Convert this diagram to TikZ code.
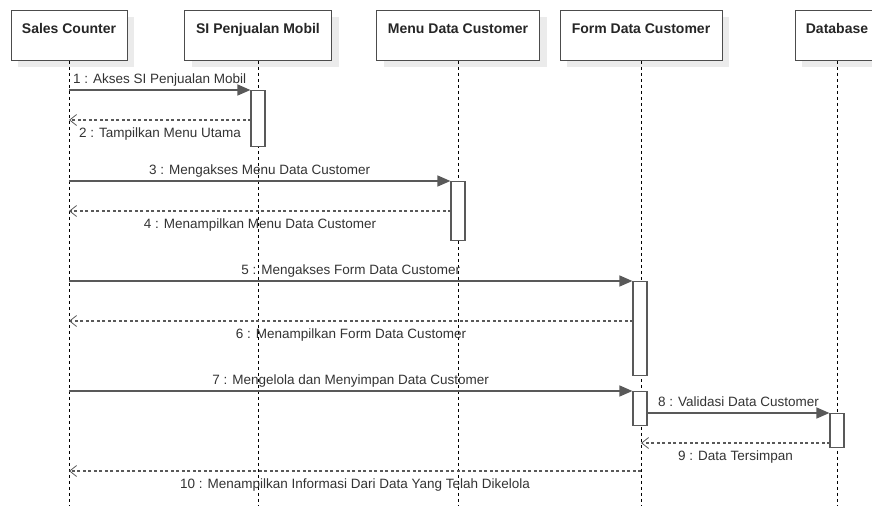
\documentclass[tikz,border=0pt]{standalone}
\usepackage{fontspec}
\setmainfont{Liberation Sans}
\usetikzlibrary{arrows.meta,shadows}

\begin{document}
\begin{tikzpicture}[x=1pt, y=-1pt]
		\tikzset{hd/.style={rectangle, draw=black!70, line width=0.9pt, fill=white, drop shadow={shadow xshift=7pt, shadow yshift=-7pt, fill=black!8, opacity=1}, minimum height=50pt, text height=18pt, text depth=22pt, inner sep=5pt, anchor=north, font=\bfseries\fontsize{14}{16}\selectfont, text=black!85}};
		\tikzset{life/.style={draw=black, line width=0.7pt, dash pattern=on 3pt off 3pt}};
		\tikzset{act/.style={rectangle, draw=black!65, line width=1.2pt, fill=white, minimum width=14pt, inner sep=0pt, anchor=north}};
		\tikzset{msg/.style={draw=black!65, line width=1.3pt, -{Triangle[length=13pt, width=11pt]}}};
		\tikzset{ret/.style={draw=black!65, line width=1.1pt, dash pattern=on 3pt off 2.5pt, -{Straight Barb[length=7pt, width=11pt, line width=0.8pt]}}};
		\tikzset{lbl/.style={midway, anchor=base, inner sep=0pt, font=\fontsize{13.5}{15}\selectfont, text=black!80}};
		\tikzset{lblup/.style={lbl, yshift=7pt}};
		\tikzset{lbldn/.style={lbl, yshift=-17.5pt}};

		\clip (0,0) rectangle (872,506);

		% lifelines
		\coordinate (scEnd) at (69,506);
		\coordinate (siEnd) at (258,506);
		\coordinate (mdEnd) at (458,506);
		\coordinate (fdEnd) at (641,506);
		\coordinate (dbEnd) at (837,506);

		\node[hd, minimum width=116pt] (sc) at (69,10) {Sales Counter};
		\node[hd, minimum width=147pt] (si) at (258,10) {SI Penjualan Mobil};
		\node[hd, minimum width=163pt] (md) at (458,10) {Menu Data Customer};
		\node[hd, minimum width=162pt] (fd) at (641,10) {Form Data Customer};
		\node[hd, minimum width=84pt] (db) at (837,10) {Database};

		\draw[life] (sc.south) to (scEnd);
		\draw[life] (si.south) to (siEnd);
		\draw[life] (md.south) to (mdEnd);
		\draw[life] (fd.south) to (fdEnd);
		\draw[life] (db.south) to (dbEnd);

		% activations
		\node[act, minimum height=56pt] (a1) at (258,90) {};
		\node[act, minimum height=59pt] (a2) at (458,181) {};
		\node[act, minimum height=94pt] (a3) at (640,281) {};
		\node[act, minimum height=34pt] (a4) at (640,391) {};
		\node[act, minimum height=34pt] (a5) at (837,413) {};

		% points on the lifelines
		\coordinate (sc1) at (69,90);
		\coordinate (sc2) at (69,120);
		\coordinate (sc3) at (69,181);
		\coordinate (sc4) at (69,211);
		\coordinate (sc5) at (69,281);
		\coordinate (sc6) at (69,321);
		\coordinate (sc7) at (69,391);
		\coordinate (sc10) at (69,471);
		\coordinate (a1r) at (251,120);
		\coordinate (a2r) at (451,211);
		\coordinate (a3r) at (633,321);
		\coordinate (fd9) at (641,443);
		\coordinate (fd10) at (641,471);
		\coordinate (a5r) at (830,443);

		\draw[msg] (sc1) to node[lblup] {1 : Akses SI Penjualan Mobil} (a1.north west);
		\draw[ret] (a1r) to node[lbldn] {2 : Tampilkan Menu Utama} (sc2);
		\draw[msg] (sc3) to node[lblup] {3 : Mengakses Menu Data Customer} (a2.north west);
		\draw[ret] (a2r) to node[lbldn] {4 : Menampilkan Menu Data Customer} (sc4);
		\draw[msg] (sc5) to node[lblup] {5 : Mengakses Form Data Customer} (a3.north west);
		\draw[ret] (a3r) to node[lbldn] {6 : Menampilkan Form Data Customer} (sc6);
		\draw[msg] (sc7) to node[lblup] {7 : Mengelola dan Menyimpan Data Customer} (a4.north west);
		\draw[msg] (a4.north east |- a5.north) to node[lblup] {8 : Validasi Data Customer} (a5.north west);
		\draw[ret] (a5r) to node[lbldn] {9 : Data Tersimpan} (fd9);
		\draw[ret] (fd10) to node[lbldn] {10 : Menampilkan Informasi Dari Data Yang Telah Dikelola} (sc10);

	\end{tikzpicture}
\end{document}
